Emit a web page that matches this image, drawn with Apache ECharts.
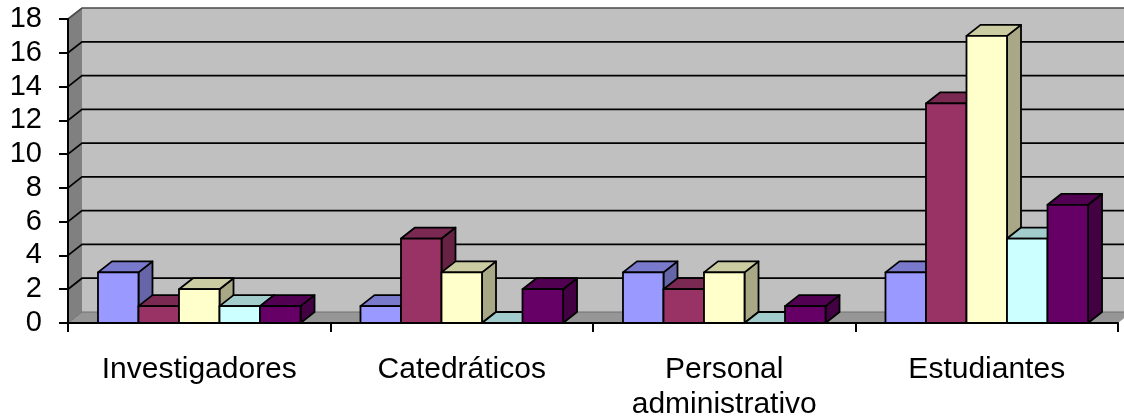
<!DOCTYPE html>
<html>
<head>
<meta charset="utf-8">
<style>html,body{margin:0;padding:0;background:#fff}#chart{width:1124px;height:417px}</style>
<script src="https://cdn.jsdelivr.net/npm/echarts@6/dist/echarts.min.js"></script>
</head>
<body>
<div id="chart"></div>
<script>
// Category labels and tick values
const categories = ['Investigadores', 'Catedráticos', 'Personal\nadministrativo', 'Estudiantes'];
const yTicks = [0, 2, 4, 6, 8, 10, 12, 14, 16, 18];

// One array per coloured column within each category
const serie1 = [3, 1, 3, 3];
const serie2 = [1, 5, 2, 13];
const serie3 = [2, 3, 3, 17];
const serie4 = [1, 0, 0, 5];
const serie5 = [1, 2, 1, 7];
const columns = [serie1, serie2, serie3, serie4, serie5];
const colors = ['#9999FF', '#993366', '#FFFFCC', '#CCFFFF', '#660066'];

// Pseudo-3D projection: how far the back plane is shifted from the front plane
const DX = 14, DY = -11;
const BAR_FRACTION = 1 / 6.48;
const FONT = '"Liberation Sans", Arial, sans-serif';

function shade(hex, k) {
  const n = parseInt(hex.slice(1), 16);
  const c = [(n >> 16) & 255, (n >> 8) & 255, n & 255].map(v => Math.round(v * k));
  return `rgb(${c[0]},${c[1]},${c[2]})`;
}

function poly(points, fill, stroke, lineWidth) {
  return {
    type: 'polygon',
    shape: { points },
    style: { fill, stroke: stroke || null, lineWidth: lineWidth || 0, lineJoin: 'round' }
  };
}

// Side wall, floor and back wall of the plot box
function renderWalls(params, api) {
  const cs = params.coordSys;
  const l = cs.x, r = cs.x + cs.width, t = cs.y, b = cs.y + cs.height;
  return {
    type: 'group',
    children: [
      poly([[l + DX, t + DY], [r + DX, t + DY], [r + DX, b + DY], [l + DX, b + DY]], '#C0C0C0'),
      poly([[l, t], [l + DX, t + DY], [l + DX, b + DY], [l, b]], '#808080'),
      poly([[l, b], [l + DX, b + DY], [r + DX, b + DY], [r, b]], '#969696')
    ]
  };
}

// Gridline: a diagonal across the side wall, then along the back wall
function renderGridline(params, api) {
  const cs = params.coordSys;
  const v = api.value(0);
  const y = api.coord([0, v])[1];
  const isFloor = v === 0;
  const isTop = v === yTicks[yTicks.length - 1];
  return {
    type: 'polyline',
    shape: { points: [[cs.x, y], [cs.x + DX, y + DY], [cs.x + cs.width + DX, y + DY]] },
    style: {
      fill: null,
      stroke: isFloor ? '#707070' : isTop ? '#4a4a4a' : '#000',
      lineWidth: isFloor ? 1 : 1.7
    }
  };
}

function renderBar(columnIndex) {
  return function (params, api) {
    const cat = api.value(0);
    const val = api.value(1);
    const band = api.size([1, 0])[0];
    const w = band * BAR_FRACTION;
    const centre = api.coord([cat, 0])[0];
    const x0 = centre - band / 2 + (band - w * columns.length) / 2 + columnIndex * w;
    const x1 = x0 + w;
    const yb = api.coord([cat, 0])[1];
    const yt = api.coord([cat, val])[1];
    const col = colors[columnIndex];
    return {
      type: 'group',
      children: [
        poly([[x1, yb], [x1 + DX, yb + DY], [x1 + DX, yt + DY], [x1, yt]], shade(col, 0.66), '#000', 1.8),
        poly([[x0, yt], [x0 + DX, yt + DY], [x1 + DX, yt + DY], [x1, yt]], shade(col, 0.8), '#000', 1.8),
        poly([[x0, yb], [x1, yb], [x1, yt], [x0, yt]], col, '#000', 1.8)
      ]
    };
  };
}

const series = [
  { type: 'custom', silent: true, z: 1, renderItem: renderWalls, data: [[0]], encode: { y: 0 } },
  { type: 'custom', silent: true, z: 2, renderItem: renderGridline, data: yTicks.map(v => [v]), encode: { y: 0 } }
];
columns.forEach((values, i) => {
  series.push({
    type: 'custom',
    silent: true,
    z: 3 + i,
    renderItem: renderBar(i),
    data: values.map((v, c) => [c, v]),
    encode: { x: 0, y: 1 }
  });
});

const chart = echarts.init(document.getElementById('chart'), null, { renderer: 'canvas' });
chart.setOption({
  animation: false,
  grid: { left: 68, right: 6, top: 19, bottom: 94, containLabel: false, outerBoundsMode: 'none' },
  xAxis: {
    type: 'category',
    data: categories,
    z: 20,
    axisLine: { lineStyle: { color: '#000', width: 2 } },
    axisTick: { show: true, alignWithLabel: false, length: 9, lineStyle: { color: '#000', width: 2 } },
    axisLabel: { color: '#000', fontFamily: FONT, fontSize: 30, margin: 29, lineHeight: 35, interval: 0, hideOverlap: false }
  },
  yAxis: {
    type: 'value',
    min: 0,
    max: 18,
    interval: 2,
    z: 20,
    axisLine: { show: true, lineStyle: { color: '#000', width: 2 } },
    axisTick: { show: true, length: 9, lineStyle: { color: '#000', width: 2 } },
    axisLabel: { color: '#000', fontFamily: FONT, fontSize: 29, margin: 26, padding: [2, 0, 0, 0] },
    splitLine: { show: false }
  },
  series
});
</script>
</body>
</html>
